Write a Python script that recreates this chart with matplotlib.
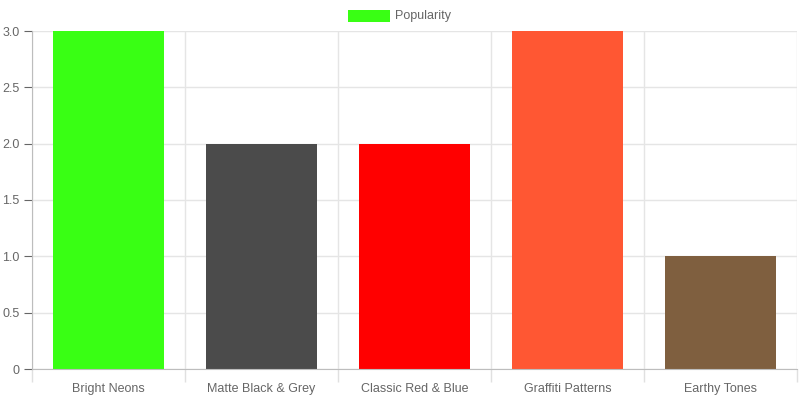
import matplotlib.pyplot as plt
from matplotlib.patches import Rectangle
import numpy as np

categories = ['Bright Neons', 'Matte Black & Grey', 'Classic Red & Blue', 'Graffiti Patterns', 'Earthy Tones']
popularity = [3, 2, 2, 3, 1]
bar_colors = ['#39ff14', '#4b4b4b', '#ff0000', '#ff5733', '#7f5f3f']

plt.rcParams['font.family'] = ['Liberation Sans', 'DejaVu Sans']
plt.rcParams['font.size'] = 9

fig = plt.figure(figsize=(8, 4), dpi=100)
ax = fig.add_axes([32 / 800, 31 / 400, 765 / 800, 338 / 400])

x = np.arange(len(categories))
ax.bar(x, popularity, width=0.72, color=bar_colors, zorder=2)

ax.set_xlim(-0.5, len(categories) - 0.5)
ax.set_ylim(0, 3)
ax.set_yticks(np.arange(0, 3.01, 0.5))
ax.set_yticklabels(['0', '0.5', '1.0', '1.5', '2.0', '2.5', '3.0'])
ax.set_xticks(x)
ax.set_xticklabels(categories)
ax.set_xticks(np.arange(-0.5, len(categories)), minor=True)

ax.tick_params(axis='x', which='major', length=0, pad=10, colors='#666666')
ax.tick_params(axis='x', which='minor', length=9, color='#e0e0e0', width=1)
ax.tick_params(axis='y', length=6, color='#e0e0e0', colors='#666666', pad=3)
ax.tick_params(axis='y', colors='#666666')
for lab in ax.get_yticklabels():
    lab.set_color('#666666')

ax.grid(axis='y', color='#e5e5e5', linewidth=1, zorder=1)
ax.grid(axis='x', which='minor', color='#e5e5e5', linewidth=1, zorder=1)

for side in ['top', 'right']:
    ax.spines[side].set_visible(False)
ax.spines['left'].set_color('#bdbdbd')
ax.spines['bottom'].set_color('#bdbdbd')

# legend
fig.patches.append(Rectangle((348 / 800, 1 - 22 / 400), 42 / 800, 12 / 400,
                             transform=fig.transFigure, facecolor=bar_colors[0],
                             edgecolor='none'))
fig.text(395 / 800, 1 - 16 / 400, 'Popularity', color='#666666', fontsize=9,
         va='center', ha='left')

plt.savefig('out.png', dpi=100)
